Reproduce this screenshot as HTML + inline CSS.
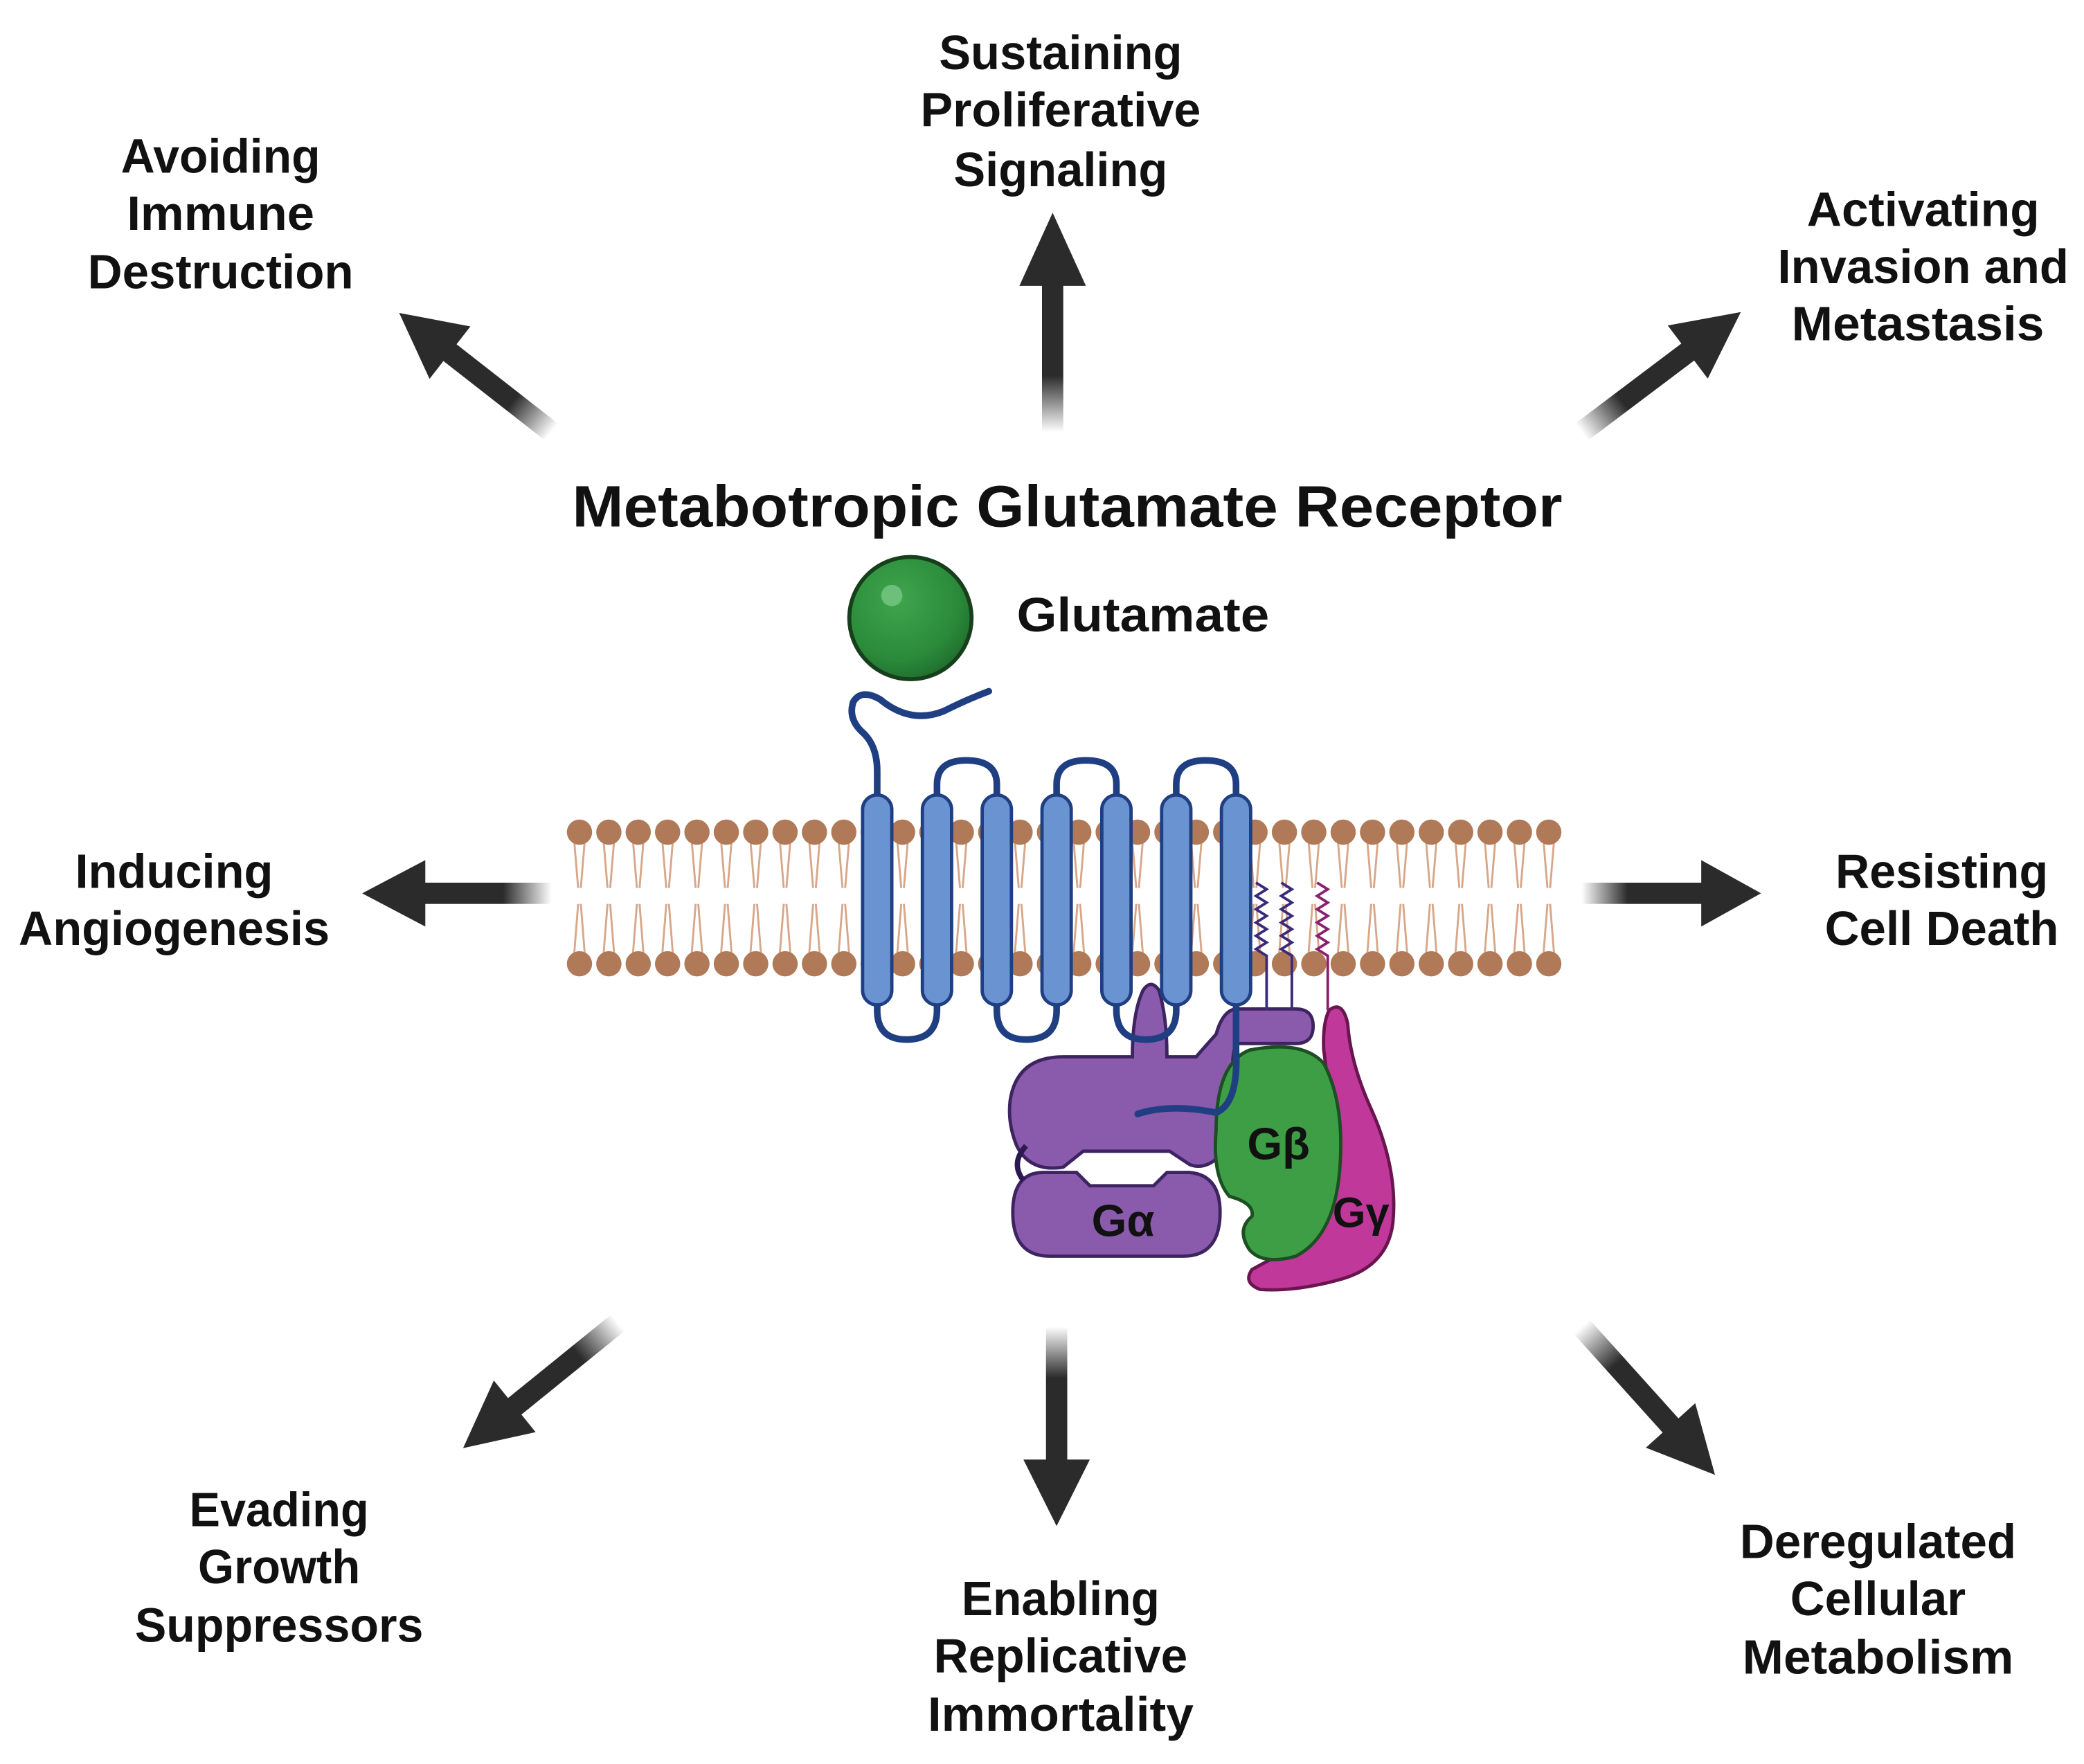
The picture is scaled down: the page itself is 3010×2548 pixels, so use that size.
<!DOCTYPE html>
<html><head><meta charset="utf-8"><style>
html,body{margin:0;padding:0;background:#fff;}
svg{display:block;}
text{font-family:"Liberation Sans",sans-serif;font-weight:bold;fill:#111;}
</style></head><body>
<svg width="3010" height="2548" viewBox="0 0 1568 1327" preserveAspectRatio="none" xmlns="http://www.w3.org/2000/svg">
<defs>
<radialGradient id="ball" cx="0.4" cy="0.35" r="0.7">
<stop offset="0" stop-color="#3fa64d"/><stop offset="0.7" stop-color="#2a8a3a"/><stop offset="1" stop-color="#1f6b2b"/></radialGradient>
<linearGradient id="fade" x1="0" y1="0" x2="1" y2="0">
<stop offset="0" stop-color="#2b2b2b" stop-opacity="0"/><stop offset="0.35" stop-color="#2b2b2b"/><stop offset="1" stop-color="#2b2b2b"/></linearGradient>
<g id="arrow">
<rect x="0" y="-8" width="110" height="16" fill="url(#fade)"/>
<polygon points="100,-25 150,0 100,25" fill="#2b2b2b"/>
</g>
</defs>

<use href="#arrow" transform="translate(792,325) rotate(-90) scale(1.1,1)"/>
<use href="#arrow" transform="translate(415,325) rotate(-142) scale(0.97,1)"/>
<use href="#arrow" transform="translate(1190,325) rotate(-37) scale(1,1)"/>
<use href="#arrow" transform="translate(415,672) rotate(180) scale(0.95,1)"/>
<use href="#arrow" transform="translate(1190,672) rotate(0) scale(0.9,1)"/>
<use href="#arrow" transform="translate(465,995) rotate(141) scale(1,1)"/>
<use href="#arrow" transform="translate(795,998) rotate(90) scale(1.0,1)"/>
<use href="#arrow" transform="translate(1190,998) rotate(48) scale(1,1)"/>

<g font-size="36" text-anchor="middle">
<text x="166" y="130" textLength="150" lengthAdjust="spacingAndGlyphs">Avoiding</text>
<text x="166" y="173" textLength="141" lengthAdjust="spacingAndGlyphs">Immune</text>
<text x="166" y="217" textLength="200" lengthAdjust="spacingAndGlyphs">Destruction</text>
<text x="798" y="52" textLength="183" lengthAdjust="spacingAndGlyphs">Sustaining</text>
<text x="798" y="95" textLength="211" lengthAdjust="spacingAndGlyphs">Proliferative</text>
<text x="798" y="140" textLength="161" lengthAdjust="spacingAndGlyphs">Signaling</text>
<text x="1447" y="170" textLength="175" lengthAdjust="spacingAndGlyphs">Activating</text>
<text x="1447" y="213" textLength="219" lengthAdjust="spacingAndGlyphs">Invasion and</text>
<text x="1443" y="256" textLength="190" lengthAdjust="spacingAndGlyphs">Metastasis</text>
<text x="131" y="668" textLength="149" lengthAdjust="spacingAndGlyphs">Inducing</text>
<text x="131" y="711" textLength="234" lengthAdjust="spacingAndGlyphs">Angiogenesis</text>
<text x="1461" y="668" textLength="160" lengthAdjust="spacingAndGlyphs">Resisting</text>
<text x="1461" y="711" textLength="176" lengthAdjust="spacingAndGlyphs">Cell Death</text>
<text x="210" y="1148" textLength="135" lengthAdjust="spacingAndGlyphs">Evading</text>
<text x="210" y="1191" textLength="122" lengthAdjust="spacingAndGlyphs">Growth</text>
<text x="210" y="1235" textLength="217" lengthAdjust="spacingAndGlyphs">Suppressors</text>
<text x="798" y="1215" textLength="149" lengthAdjust="spacingAndGlyphs">Enabling</text>
<text x="798" y="1258" textLength="191" lengthAdjust="spacingAndGlyphs">Replicative</text>
<text x="798" y="1302" textLength="200" lengthAdjust="spacingAndGlyphs">Immortality</text>
<text x="1413" y="1172" textLength="208" lengthAdjust="spacingAndGlyphs">Deregulated</text>
<text x="1413" y="1215" textLength="132" lengthAdjust="spacingAndGlyphs">Cellular</text>
<text x="1413" y="1259" textLength="204" lengthAdjust="spacingAndGlyphs">Metabolism</text>
</g>
<text x="803" y="396" font-size="44" text-anchor="middle" textLength="745" lengthAdjust="spacingAndGlyphs">Metabotropic Glutamate Receptor</text>
<text x="765" y="475" font-size="36" textLength="190" lengthAdjust="spacingAndGlyphs">Glutamate</text>

<circle cx="685" cy="465" r="46" fill="url(#ball)" stroke="#173f1c" stroke-width="3"/>
<circle cx="671" cy="448" r="8" fill="#6cc07a"/>

<g id="mem">
<g stroke="#d7a78a" stroke-width="1.5" fill="none" id="tails"></g>
</g>
<script>
(function(){
var ns="http://www.w3.org/2000/svg";
var mem=document.getElementById('mem');var t=document.getElementById('tails');
for(var x=436;x<=1166;x+=22.1){
 var p=document.createElementNS(ns,'path');
 p.setAttribute('d','M'+(x-4)+' 632 L'+(x-1)+' 668 M'+(x+4)+' 632 L'+(x+1)+' 668 M'+(x-1)+' 680 L'+(x-4)+' 718 M'+(x+1)+' 680 L'+(x+4)+' 718');
 t.appendChild(p);
 [626,725].forEach(function(y){var c=document.createElementNS(ns,'circle');c.setAttribute('cx',x);c.setAttribute('cy',y);c.setAttribute('r',9.5);c.setAttribute('fill','#b07a58');mem.appendChild(c);});
}
})();
</script>

<g fill="none" stroke="#1f3f82" stroke-width="5" stroke-linecap="round">
<path d="M660 600 L660 580 Q660 560 648 550 Q638 540 642 528 Q648 518 662 526 Q685 545 710 535 Q728 526 744 520"/>
<path d="M705 600 L705 590 Q705 572 727 572 Q750 572 750 590 L750 600"/>
<path d="M795 600 L795 590 Q795 572 817 572 Q840 572 840 590 L840 600"/>
<path d="M885 600 L885 590 Q885 572 907 572 Q930 572 930 590 L930 600"/>
<path d="M660 750 L660 760 Q660 782 682 782 Q705 782 705 760 L705 750"/>
<path d="M750 750 L750 760 Q750 782 772 782 Q795 782 795 760 L795 750"/>
</g>

<path d="M800 795 L852 795 Q852 762 860 745 Q866 736 872 745 Q878 765 878 795 L900 795 Q906 788 915 778 Q920 760 930 759 L975 759 Q988 759 988 772 Q988 785 975 785 L930 785 Q925 800 930 815 Q934 855 915 872 Q905 880 895 876 L880 866 L815 866 L800 878 Q775 882 765 862 Q758 845 760 828 Q765 795 800 795 Z" fill="#8a5aac" stroke="#3d2460" stroke-width="2.5"/>
<path d="M840 750 L840 760 Q840 782 862 782 Q885 782 885 760 L885 750" fill="none" stroke="#1f3f82" stroke-width="5"/>
<path d="M785 882 L810 882 L820 892 L868 892 L878 882 L895 882 Q918 884 918 912 Q918 945 890 945 L790 945 Q762 945 762 912 Q762 882 785 882 Z" fill="#8a5aac" stroke="#3d2460" stroke-width="2.5"/>
<path d="M772 862 Q760 875 770 888" fill="none" stroke="#2a1a50" stroke-width="4"/>

<path d="M1000 760 Q1010 752 1014 770 Q1016 800 1032 835 Q1052 880 1048 920 Q1044 952 1010 962 Q975 972 948 970 Q935 965 942 955 Q960 945 990 930 Q1005 900 1003 860 Q1000 820 996 790 Q995 770 1000 760 Z" fill="#c0389a" stroke="#6a1550" stroke-width="2.5"/>
<path d="M940 790 Q980 782 996 800 Q1012 830 1008 880 Q1004 930 975 945 Q950 952 940 940 Q930 925 942 915 Q944 905 925 900 Q912 885 915 850 Q915 800 940 790 Z" fill="#3d9e46" stroke="#1c4f22" stroke-width="2.5"/>

<path d="M930 750 L930 790 Q932 830 915 837 Q880 830 856 838" fill="none" stroke="#1f3f82" stroke-width="5" stroke-linecap="round"/>

<g fill="none" stroke-width="2">
<path d="M945 664 l8 5 l-8 5 l8 5 l-8 5 l8 5 l-8 5 l8 5 l-8 5 l8 5 l-8 5 l8 5 L953 760" stroke="#3a2a7a"/>
<path d="M964 664 l8 5 l-8 5 l8 5 l-8 5 l8 5 l-8 5 l8 5 l-8 5 l8 5 l-8 5 l8 5 L972 760" stroke="#3a2a7a"/>
<path d="M991 664 l8 5 l-8 5 l8 5 l-8 5 l8 5 l-8 5 l8 5 l-8 5 l8 5 l-8 5 l8 5 L999 760" stroke="#8a2070"/>
</g>

<g fill="#6a93d1" stroke="#1f3f82" stroke-width="2.5">
<rect x="649" y="598" width="22" height="158" rx="11"/>
<rect x="694" y="598" width="22" height="158" rx="11"/>
<rect x="739" y="598" width="22" height="158" rx="11"/>
<rect x="784" y="598" width="22" height="158" rx="11"/>
<rect x="829" y="598" width="22" height="158" rx="11"/>
<rect x="874" y="598" width="22" height="158" rx="11"/>
<rect x="919" y="598" width="22" height="158" rx="11"/>
</g>

<text x="845" y="930" font-size="34" text-anchor="middle">Gα</text>
<text x="962" y="872" font-size="34" text-anchor="middle">Gβ</text>
<text x="1024" y="923" font-size="32" text-anchor="middle">Gγ</text>
</svg>
</body></html>
